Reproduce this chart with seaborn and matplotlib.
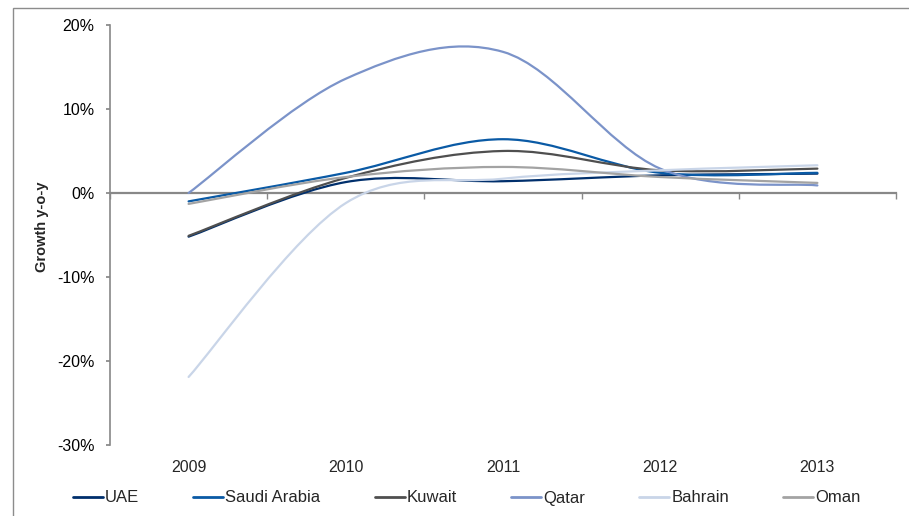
import numpy as np
import pandas as pd
import matplotlib
matplotlib.use("Agg")
import matplotlib.pyplot as plt
import seaborn as sns
from matplotlib.path import Path
from matplotlib.patches import PathPatch, Rectangle
from matplotlib.lines import Line2D
from matplotlib.ticker import FuncFormatter

years = ["2009", "2010", "2011", "2012", "2013"]
countries = ["UAE", "Saudi Arabia", "Kuwait", "Qatar", "Bahrain", "Oman"]

uae = [-5.2, 1.3, 1.4, 2.1, 2.3]
saudi = [-1.0, 2.4, 6.4, 2.4, 2.4]
kuwait = [-5.1, 1.8, 5.0, 2.7, 2.9]
qatar = [0.0, 13.6, 16.8, 2.9, 0.9]
bahrain = [-21.9, -1.2, 1.7, 2.7, 3.3]
oman = [-1.3, 1.9, 3.1, 1.9, 1.2]

colors = ["#002f6c", "#0a5aa5", "#4f4f4f", "#7b93c9", "#c9d5e8", "#a3a3a3"]

df = pd.DataFrame({
    "pos": list(range(len(years))) * len(countries),
    "growth": uae + saudi + kuwait + qatar + bahrain + oman,
    "country": [c for c in countries for _ in years],
})


def smooth_path(xs, ys):
    # excel-style smoothed line: cubic bezier through the points
    pts = np.column_stack([xs, ys])
    n = len(pts)
    verts = [pts[0]]
    codes = [Path.MOVETO]
    for i in range(n - 1):
        p0 = pts[max(i - 1, 0)]
        p1 = pts[i]
        p2 = pts[i + 1]
        p3 = pts[min(i + 2, n - 1)]
        c1 = p1 + (p2 - p0) / 6
        c2 = p2 - (p3 - p1) / 6
        verts += [c1, c2, p2]
        codes += [Path.CURVE4] * 3
    return Path(verts, codes)


sns.set_theme(style="white")
plt.rcParams["font.family"] = ["Liberation Sans", "DejaVu Sans"]

fig = plt.figure(figsize=(9.09, 5.16), dpi=100)
ax = fig.add_axes([0.121, 0.1376, 0.8647, 0.814])

sns.lineplot(data=df, x="pos", y="growth", hue="country", hue_order=countries,
             palette=colors, legend=False, ax=ax, lw=1.6)

# swap the straight segments for smoothed curves
for line, col in zip(ax.lines, colors):
    xy = line.get_xydata()
    line.set_visible(False)
    ax.add_patch(PathPatch(smooth_path(xy[:, 0], xy[:, 1]), fill=False,
                           edgecolor=col, lw=1.6, capstyle="round", zorder=3))

ax.set_xlim(-0.5, 4.5)
ax.set_ylim(-30, 20)
ax.set_yticks([-30, -20, -10, 0, 10, 20])
ax.yaxis.set_major_formatter(FuncFormatter(lambda v, p: f"{v:.0f}%"))
ax.tick_params(axis="y", left=True, length=3, color="#888888", labelsize=11.5,
               pad=8, colors="#000000")
ax.set_ylabel("Growth y-o-y", fontsize=10.5, fontweight="bold")
ax.yaxis.set_label_coords(-0.077, 0.52)
ax.set_xlabel("")

for s in ["top", "right"]:
    ax.spines[s].set_visible(False)
ax.spines["left"].set_color("#888888")
ax.spines["left"].set_linewidth(1.2)

# horizontal axis crosses at zero, ticks between categories
ax.spines["bottom"].set_position(("data", 0))
ax.spines["bottom"].set_color("#888888")
ax.spines["bottom"].set_linewidth(1.6)
ax.set_xticks(np.arange(-0.5, 5, 1.0))
ax.set_xticklabels([])
ax.tick_params(axis="x", bottom=True, length=4, color="#888888", width=1)

sec = ax.secondary_xaxis(0.0)
sec.set_xticks(range(len(years)))
sec.set_xticklabels(years)
sec.spines["bottom"].set_visible(False)
sec.tick_params(length=0, labelsize=11.5, pad=11)

handles = [Line2D([0], [0], color=c, lw=2) for c in colors]
fig.legend(handles, countries, loc="center left",
           bbox_to_anchor=(73 / 909, 1 - 498 / 516), borderpad=0,
           borderaxespad=0, ncol=6, frameon=False, fontsize=12,
           handlelength=1.8, handletextpad=0.12, columnspacing=3.25)

# chart area border (left and top edges visible)
fig.patches.append(Rectangle((13 / 909, -0.5), 2.0, 0.5 + 1 - 8 / 516,
                             transform=fig.transFigure, fill=False,
                             edgecolor="#8c8c8c", lw=1.0))

fig.savefig("out.png", dpi=100)
